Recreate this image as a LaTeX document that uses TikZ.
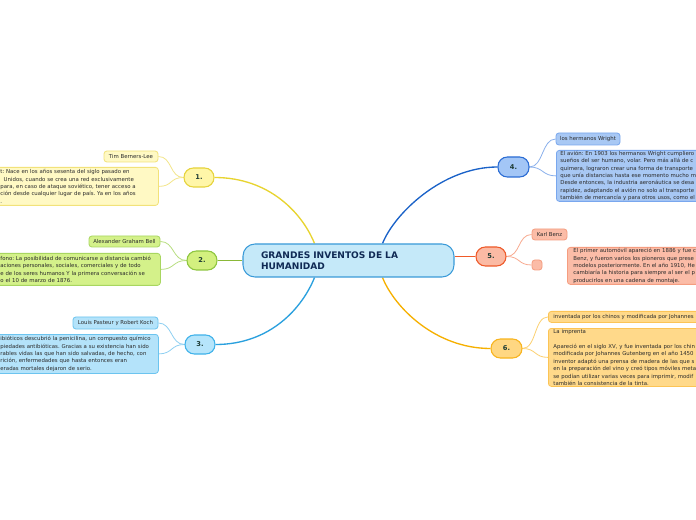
\documentclass[tikz,border=0pt]{standalone}
\usepackage{fontspec}
\setmainfont{DejaVu Sans}
\usetikzlibrary{calc}
\pgfdeclarelayer{bg}
\pgfsetlayers{bg,main}
\definecolor{ctrfill}{HTML}{C5E9F9}
\definecolor{ctrdraw}{HTML}{3A9AD8}
\definecolor{ctrtext}{HTML}{102A55}
\definecolor{labtext}{HTML}{1D3B34}
\definecolor{boxtext}{HTML}{2B2B2B}
% yellow
\definecolor{Ynf}{HTML}{FFF6A8}\definecolor{Ynd}{HTML}{E6D33C}
\definecolor{Ybf}{HTML}{FFF9C4}\definecolor{Ybd}{HTML}{F2E27A}
\definecolor{Yml}{HTML}{E8D430}\definecolor{Ycl}{HTML}{F3E68A}
% green
\definecolor{Gnf}{HTML}{D3F07F}\definecolor{Gnd}{HTML}{8EC63F}
\definecolor{Gbf}{HTML}{D4F18A}\definecolor{Gbd}{HTML}{A8D660}
\definecolor{Gml}{HTML}{8AB838}\definecolor{Gcl}{HTML}{B8DE80}
% cyan
\definecolor{Cnf}{HTML}{B6E5FB}\definecolor{Cnd}{HTML}{3FB2EA}
\definecolor{Cbf}{HTML}{B4E3FA}\definecolor{Cbd}{HTML}{6CC4EF}
\definecolor{Cml}{HTML}{2AA0DE}\definecolor{Ccl}{HTML}{8FD0F2}
% blue
\definecolor{Bnf}{HTML}{A3C6F6}\definecolor{Bnd}{HTML}{2A6CD4}
\definecolor{Bbf}{HTML}{A8C8F4}\definecolor{Bbd}{HTML}{79A7EE}
\definecolor{Bml}{HTML}{1A62C8}\definecolor{Bcl}{HTML}{8AB0EC}
% red
\definecolor{Rnf}{HTML}{FBBAA4}\definecolor{Rnd}{HTML}{EE5A2A}
\definecolor{Rbf}{HTML}{FBBCA7}\definecolor{Rbd}{HTML}{F59D80}
\definecolor{Rml}{HTML}{F05A28}\definecolor{Rcl}{HTML}{F8AA90}
% orange
\definecolor{Onf}{HTML}{FFD782}\definecolor{Ond}{HTML}{F8B41E}
\definecolor{Obf}{HTML}{FFD98A}\definecolor{Obd}{HTML}{FCC455}
\definecolor{Oml}{HTML}{F6B000}\definecolor{Ocl}{HTML}{FCD070}
\frenchspacing
\begin{document}
\begin{tikzpicture}[x=0.75pt,y=-0.75pt,
  topic/.style={draw, line width=0.8pt, rounded corners=7pt, minimum width=22.5pt,
    minimum height=14.25pt, inner sep=0pt, text=labtext,
    font=\bfseries\fontsize{5pt}{6pt}\selectfont},
  leaf/.style={draw, line width=0.6pt, rounded corners=2.2pt, inner sep=0pt,
    text=boxtext, font=\fontsize{4.05pt}{5.6pt}\selectfont},
  bigleaf/.style={leaf, align=left, anchor=north west},
  mainline/.style={line width=1pt},
  childline/.style={line width=0.6pt}
]
\begin{pgfonlayer}{bg}
\fill[white] (0,0) rectangle (696,520);
\end{pgfonlayer}
\useasboundingbox (0,0) rectangle (696,520);
\clip (0,0) rectangle (696,520);

% central topic
\node[draw=ctrdraw, fill=ctrfill, line width=0.8pt, rounded corners=9pt,
  minimum width=158.25pt, minimum height=24.75pt, inner xsep=13.5pt, inner ysep=0pt,
  text width=131.25pt, align=left, text=ctrtext,
  font=\bfseries\fontsize{6.8pt}{8.3pt}\selectfont]
  (ctr) at (348.5,260.5) {GRANDES INVENTOS DE LA\\HUMANIDAD};

% main topics
\node[topic, draw=Ynd, fill=Ynf] (n1) at (199,177.5) {1.};
\node[topic, draw=Gnd, fill=Gnf] (n2) at (202,260.5) {2.};
\node[topic, draw=Cnd, fill=Cnf] (n3) at (200,344.5) {3.};
\node[topic, draw=Bnd, fill=Bnf, minimum width=23.25pt, minimum height=15pt] (n4) at (513.5,167) {4.};
\node[topic, draw=Rnd, fill=Rnf] (n5) at (491,256.5) {5.};
\node[topic, draw=Ond, fill=Onf, minimum width=23.25pt] (n6) at (506.5,348.5) {6.};

% branch 1
\node[leaf, draw=Ybd, fill=Ybf, minimum width=40.5pt, minimum height=8.25pt] (c1a) at (131,156.5) {Tim Berners-Lee};
\node[bigleaf, draw=Ybd, fill=Ybf, inner xsep=7.5pt, text width=111pt, minimum height=28.5pt] (c1b) at (-10,167)
 {\mbox{t: Nace en los años sesenta del siglo pasado en}\\
  \mbox{\hspace{2.5pt}Unidos, cuando se crea una red exclusivamente}\\
  \mbox{para, en caso de ataque soviético, tener acceso a}\\
  \mbox{ción desde cualquier lugar de país. Ya en los años}\\
  .};
% branch 2
\node[leaf, draw=Gbd, fill=Gbf, minimum width=53.25pt, minimum height=8.25pt] (c2a) at (124.5,241.5) {Alexander Graham Bell};
\node[bigleaf, draw=Gbd, fill=Gbf, inner xsep=7.5pt, text width=112.5pt, minimum height=24pt] (c2b) at (-10,253)
 {\mbox{fono: La posibilidad de comunicarse a distancia cambió}\\
  \mbox{aciones personales, sociales, comerciales y de todo}\\
  \mbox{e de los seres humanos Y la primera conversación se}\\
  \mbox{o el 10 de marzo de 1876.}};
% branch 3
\node[leaf, draw=Cbd, fill=Cbf, minimum width=63.75pt, minimum height=9pt] (c3a) at (115.5,323) {Louis Pasteur y Robert Koch};
\node[bigleaf, draw=Cbd, fill=Cbf, inner xsep=7.5pt, text width=111pt, minimum height=29.25pt] (c3b) at (-10,334)
 {\mbox{ibióticos descubrió la penicilina, un compuesto químico}\\
  \mbox{piedades antibióticas. Gracias a su existencia han sido}\\
  \mbox{rables vidas las que han sido salvadas, de hecho, con}\\
  \mbox{rición, enfermedades que hasta entonces eran}\\
  \mbox{eradas mortales dejaron de serio.}};
% branch 4
\node[leaf, draw=Bbd, fill=Bbf, minimum width=48pt, minimum height=9pt] (c4a) at (588,139) {los hermanos Wright};
\node[bigleaf, draw=Bbd, fill=Bbf, inner xsep=3pt, text width=132pt, minimum height=38.25pt] (c4b) at (556,150)
 {\mbox{El avión: En 1903 los hermanos Wright cumpliero}\\
  \mbox{sueños del ser humano, volar. Pero más allá de c}\\
  \mbox{quimera, lograron crear una forma de transporte}\\
  \mbox{que unía distancias hasta ese momento mucho m}\\
  \mbox{Desde entonces, la industria aeronáutica se desa}\\
  \mbox{rapidez, adaptando el avión no solo al transporte}\\
  \mbox{también de mercancía y para otros usos, como el}};
% branch 5
\node[leaf, draw=Rbd, fill=Rbf, minimum width=26.25pt, minimum height=8.25pt] (c5a) at (549.5,234.5) {Karl Benz};
\node[leaf, draw=Rbd, fill=Rbf, minimum width=7.5pt, minimum height=7.5pt] (c5b) at (537,265) {};
\node[bigleaf, draw=Rbd, fill=Rbf, inner xsep=4.5pt, text width=120.75pt, minimum height=27.75pt] (c5c) at (567,247)
 {\mbox{El primer automóvil apareció en 1886 y fue c}\\
  \mbox{Benz, y fueron varios los pioneros que prese}\\
  \mbox{modelos posteriormente. En el año 1910, He}\\
  \mbox{cambiaría la historia para siempre al ser el p}\\
  \mbox{producirlos en una cadena de montaje.}};
% branch 6
\node[bigleaf, draw=Obd, fill=Obf, inner xsep=3.75pt, text width=136.5pt, minimum height=8.25pt] (c6a) at (548,311)
 {\mbox{inventada por los chinos y modificada por Johannes}};
\node[bigleaf, draw=Obd, fill=Obf, inner xsep=3.75pt, text width=136.5pt, minimum height=43.5pt] (c6b) at (548,328)
 {La imprenta\\[5.6pt]
  \mbox{Apareció en el siglo XV, y fue inventada por los chin}\\
  \mbox{modificada por Johannes Gutenberg en el año 1450}\\
  \mbox{inventor adaptó una prensa de madera de las que s}\\
  \mbox{en la preparación del vino y creó tipos móviles meta}\\
  \mbox{se podían utilizar varias veces para imprimir, modif}\\
  \mbox{también la consistencia de la tinta.}};

\begin{pgfonlayer}{bg}
% main connectors
\draw[mainline, Yml] ($(ctr.north)+(-34,0)$) .. controls +(-12,-30) and +(55,0) .. (n1.east);
\draw[mainline, Gml] (n2.east) -- (ctr.west);
\draw[mainline, Cml] ($(ctr.south)+(-34,0)$) .. controls +(-12,30) and +(55,0) .. (n3.east);
\draw[mainline, Bml] ($(ctr.north)+(34,0)$) .. controls +(12,-30) and +(-55,0) .. (n4.west);
\draw[mainline, Rml] (n5.west) -- (ctr.east |- n5.west);
\draw[mainline, Oml] ($(ctr.south)+(34,0)$) .. controls +(12,30) and +(-55,0) .. (n6.west);
% child connectors
\draw[childline, Ycl] (n1.west) .. controls +(-14,0) and +(14,0) .. (c1a.east);
\draw[childline, Ycl] (n1.west) .. controls +(-14,0) and +(14,0) .. (c1b.east);
\draw[childline, Gcl] (n2.west) .. controls +(-14,0) and +(14,0) .. (c2a.east);
\draw[childline, Gcl] (n2.west) .. controls +(-14,0) and +(14,0) .. (c2b.east);
\draw[childline, Ccl] (n3.west) .. controls +(-14,0) and +(14,0) .. (c3a.east);
\draw[childline, Ccl] (n3.west) .. controls +(-14,0) and +(14,0) .. (c3b.east);
\draw[childline, Bcl] (n4.east) .. controls +(14,0) and +(-14,0) .. (c4a.west);
\draw[childline, Bcl] (n4.east) .. controls +(14,0) and +(-14,0) .. (c4b.west);
\draw[childline, Rcl] (n5.east) .. controls +(14,0) and +(-14,0) .. (c5a.west);
\draw[childline, Rcl] (n5.east) .. controls +(14,0) and +(-14,0) .. (c5b.west);
\draw[childline, Ocl] (n6.east) .. controls +(14,0) and +(-14,0) .. (c6a.west);
\draw[childline, Ocl] (n6.east) .. controls +(14,0) and +(-14,0) .. (c6b.west);
\end{pgfonlayer}
\end{tikzpicture}
\end{document}
